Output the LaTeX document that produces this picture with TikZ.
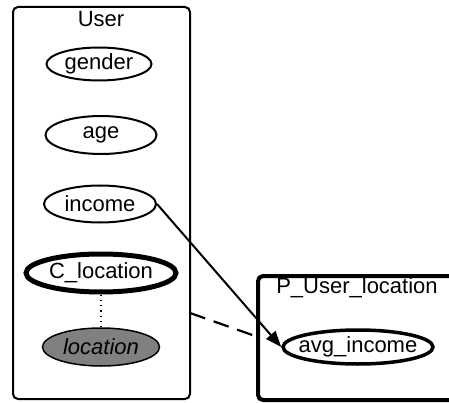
\documentclass[tikz,border=0pt]{standalone}
\usepackage{fontspec}
\setmainfont{Liberation Sans}
\usetikzlibrary{shapes.geometric,arrows.meta}
\tikzset{
  attr/.style={draw, ellipse, line width=2pt, inner sep=0pt, font=\fontsize{22}{25}\selectfont},
  clusterbox/.style={draw, rounded corners=5pt},
  lbl/.style={inner sep=0pt, font=\fontsize{22}{25}\selectfont},
}
\begin{document}
\begin{tikzpicture}[x=1pt,y=-1pt]
\useasboundingbox (0,0) rectangle (449,403);
% clusters
\draw[clusterbox, line width=2pt] (13,7) rectangle (190,399);
\node[lbl] (userlbl) at (101,19) {User};
\draw[clusterbox, line width=4pt] (258,276) rectangle (470,400);
\node[lbl] (plbl) at (357,288) {P\_User\_location};
% attributes
\node[attr, minimum width=105pt, minimum height=33pt] (gender) at (99,64) {gender};
\node[attr, minimum width=111pt, minimum height=38pt] (age) at (101,135) {age};
\node[attr, minimum width=112pt, minimum height=37pt] (income) at (100,204) {income};
\node[attr, line width=5pt, inner xsep=-4pt, minimum width=150pt, minimum height=38pt] (cloc) at (101,273) {C\_location};
\node[attr, fill=gray, line width=1.5pt, minimum width=117pt, minimum height=38pt, font=\fontsize{22}{25}\selectfont\itshape] (loc) at (101,347) {location};
\node[attr, line width=3.5pt, inner xsep=-14pt, inner ysep=-2pt, minimum width=150pt, minimum height=34pt] (avg) at (358,347) {avg\_income};
% connectors
\draw[line width=1.3pt, dash pattern=on 1.3pt off 4pt] (cloc) -- (loc);
\draw[line width=2pt, -{Triangle[length=16pt, width=12pt]}] (income.east) -- (avg.west);
\coordinate (d1) at (190,313);
\coordinate (d2) at (258,337);
\draw[line width=2.2pt, dash pattern=on 16pt off 9pt] (d1) -- (d2);
\end{tikzpicture}
\end{document}
